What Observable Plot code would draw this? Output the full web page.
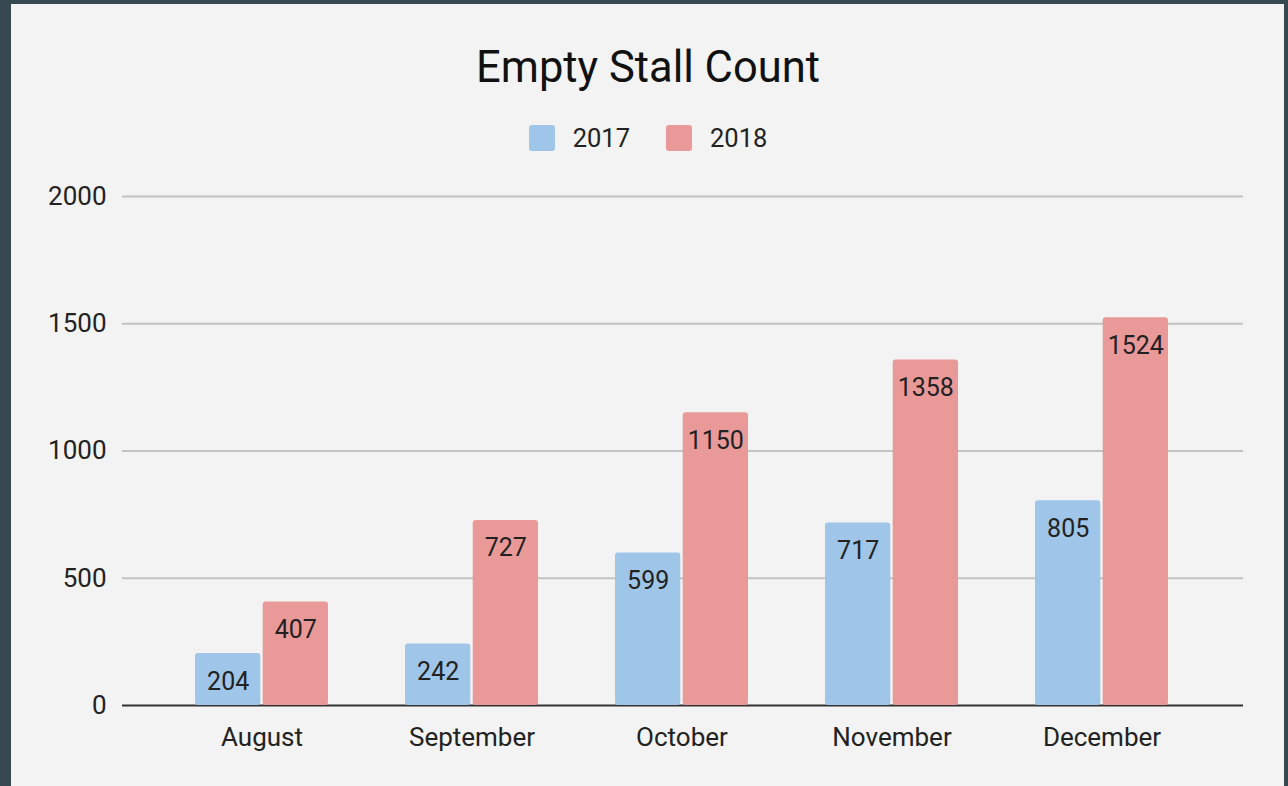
<!DOCTYPE html>
<html>
<head>
<meta charset="utf-8">
<script src="https://cdn.jsdelivr.net/npm/d3@7"></script>
<script src="https://cdn.jsdelivr.net/npm/@observablehq/plot@0.6"></script>
<style>
  html, body { margin: 0; padding: 0; }
  body { width: 1288px; height: 786px; background: #37474f; position: relative; overflow: hidden; font-family: Roboto, "Noto Sans", sans-serif; }
  #panel { position: absolute; left: 11px; top: 4px; width: 1273px; height: 782px; background: #f3f3f3; }
  #title { position: absolute; left: 0; top: 43px; width: 1296px; text-align: center; font-size: 43.5px; color: #111; line-height: 50px; }
  #legend { position: absolute; left: 0; top: 122px; width: 1296px; display: flex; justify-content: center; align-items: center; font-size: 25.5px; color: #222; height: 32px; }
  .item { display: flex; align-items: center; }
  .sw { width: 26px; height: 26px; border-radius: 3px; margin-right: 18px; }
  #chart { position: absolute; left: 0; top: 150px; }
</style>
</head>
<body>
<div id="panel"></div>
<div id="title">Empty Stall Count</div>
<div id="legend"></div>
<div id="chart"></div>
<script>
const months = ["August", "September", "October", "November", "December"];
const years = ["2017", "2018"];
const values2017 = [204, 242, 599, 717, 805];
const values2018 = [407, 727, 1150, 1358, 1524];
const yTicks = [0, 500, 1000, 1500, 2000];
const colors = ["#9fc5e8", "#ea9999"];

const d17 = months.map((m, i) => ({month: m, year: years[0], value: values2017[i]}));
const d18 = months.map((m, i) => ({month: m, year: years[1], value: values2018[i]}));

// legend
const legend = document.getElementById("legend");
years.forEach((y, i) => {
  const it = document.createElement("div");
  it.className = "item";
  if (i > 0) it.style.marginLeft = "36px";
  const sw = document.createElement("div");
  sw.className = "sw";
  sw.style.background = colors[i];
  const t = document.createElement("span");
  t.textContent = y;
  it.appendChild(sw);
  it.appendChild(t);
  legend.appendChild(it);
});

const chart = Plot.plot({
  width: 1288,
  height: 636,
  marginLeft: 122,
  marginRight: 45,
  marginTop: 46,
  marginBottom: 81,
  style: {background: "transparent", fontFamily: "Roboto, 'Noto Sans', sans-serif", fontSize: "26px", color: "#222"},
  x: {domain: months, paddingInner: 0.369, paddingOuter: 0.3486, align: 0.49, label: null, tickSize: 0, tickPadding: 22},
  y: {domain: [0, 2000], ticks: yTicks, tickFormat: d => String(d), label: null, tickSize: 0, tickPadding: 16},
  color: {domain: years, range: colors},
  marks: [
    Plot.ruleY(yTicks.filter(d => d > 0), {stroke: "#c2c2c2", strokeWidth: 2}),
    Plot.ruleY([0], {stroke: "#333", strokeWidth: 2}),
    Plot.barY(d17, {x: "month", y: "value", fill: "year", insetRight: 67.7, rx: 3}),
    Plot.barY(d18, {x: "month", y: "value", fill: "year", insetLeft: 67.7, rx: 3}),
    Plot.text(d17, {x: "month", y: "value", text: d => String(d.value), dx: -33.8, dy: 28, fill: "#222", fontSize: 25}),
    Plot.text(d18, {x: "month", y: "value", text: d => String(d.value), dx: 33.8, dy: 28, fill: "#222", fontSize: 25})
  ]
});
document.getElementById("chart").appendChild(chart);
</script>
</body>
</html>
